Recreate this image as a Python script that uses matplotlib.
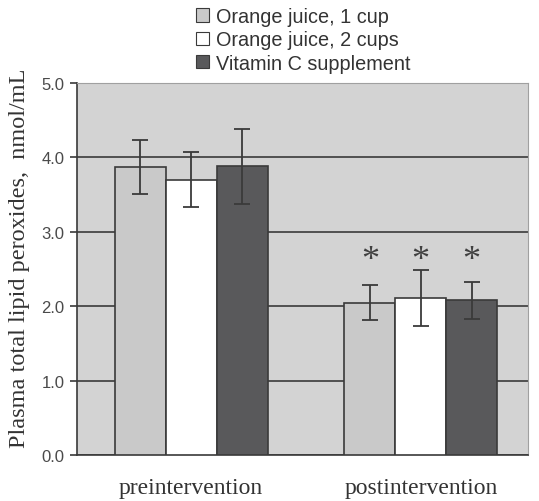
import matplotlib
matplotlib.use("Agg")
import matplotlib.pyplot as plt
import numpy as np
from matplotlib.patches import Patch

groups = ["preintervention", "postintervention"]
series = ["Orange juice, 1 cup", "Orange juice, 2 cups", "Vitamin C supplement"]
oj1 = [3.87, 2.05]
oj2 = [3.70, 2.11]
vitc = [3.88, 2.08]
oj1_err = [0.36, 0.23]
oj2_err = [0.37, 0.38]
vitc_err = [0.50, 0.25]
sig = [False, True]

colors = ["#c9c9c9", "#ffffff", "#59595b"]
values = [oj1, oj2, vitc]
errs = [oj1_err, oj2_err, vitc_err]

fig = plt.figure(figsize=(5.39, 5.02), dpi=100)
ax = fig.add_axes([0.143, 0.0916, 0.837, 0.741])
ax.set_facecolor("#d3d3d3")

x = np.arange(len(groups))
w = 0.222
for i in range(3):
    xs = x + (i - 1) * w
    ax.bar(xs, values[i], w, color=colors[i], edgecolor="#3a3a3a", linewidth=1.2, zorder=3)
    ax.errorbar(xs, values[i], yerr=errs[i], fmt="none", ecolor="#3a3a3a",
                elinewidth=1.3, capsize=6, capthick=1.3, zorder=4)
    for j in range(len(groups)):
        if sig[j]:
            ax.text(xs[j], 2.62, "*", ha="center", va="center",
                    fontsize=26, family="Liberation Serif", color="#404040", zorder=5)

ax.set_ylim(0, 5.0)
ax.set_xlim(-0.497, 1.468)
ax.set_yticks([0, 1, 2, 3, 4, 5])
ax.set_yticklabels(["0.0", "1.0", "2.0", "3.0", "4.0", "5.0"], fontsize=12,
                   family="Liberation Sans", color="#4a4a4a")
ax.yaxis.grid(True, color="#3a3a3a", linewidth=1.2, zorder=1)
ax.set_axisbelow(True)
ax.set_xticks(x)
ax.set_xticklabels(groups, fontsize=17, family="Liberation Serif", color="#333333")
ax.tick_params(axis="x", length=0, pad=16)
ax.tick_params(axis="y", length=5, width=1.2, color="#3a3a3a", pad=4)
fig.text(20 / 539, (502 - 258) / 502, "Plasma total lipid peroxides,  nmol/mL",
         rotation=90, ha="center", va="center", fontsize=17.5,
         family="Liberation Serif", color="#333333")
for s in ["top", "right"]:
    ax.spines[s].set_color("#a0a0a0")
for s in ["left", "bottom"]:
    ax.spines[s].set_color("#3a3a3a")
    ax.spines[s].set_linewidth(1.2)

handles = [Patch(facecolor=c, edgecolor="#3a3a3a", linewidth=0.8) for c in colors]
fig.legend(handles, series, loc="upper left", bbox_to_anchor=(188 / 539, 1.0),
           frameon=False, prop={"family": "Liberation Sans", "size": 14.3},
           handlelength=0.65, handleheight=0.65, handletextpad=0.35,
           labelspacing=0.22, labelcolor="#333333", borderaxespad=0.0)

fig.savefig("out.png", dpi=100)
